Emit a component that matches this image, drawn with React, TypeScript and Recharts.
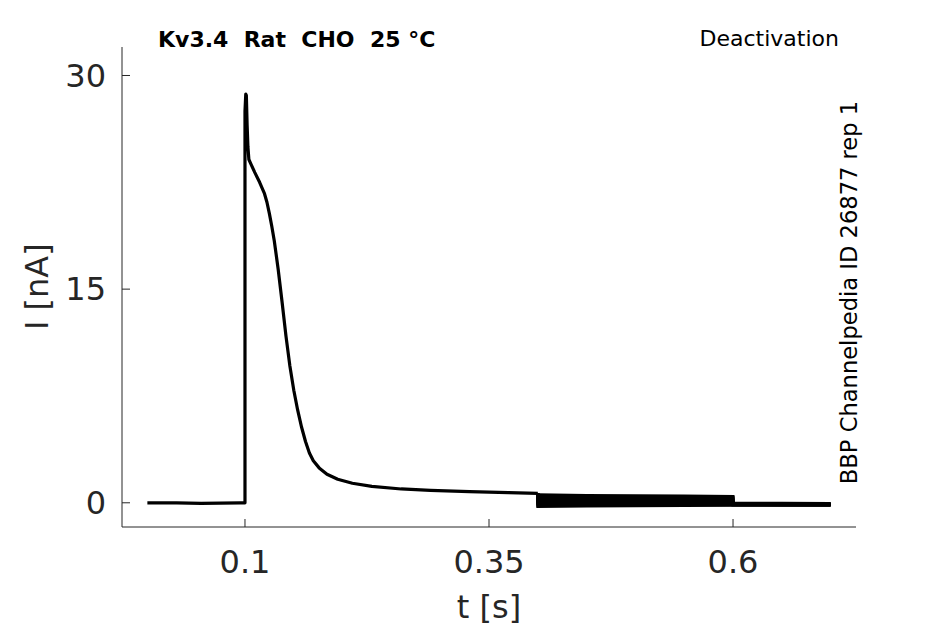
import React from 'react';
import { LineChart, Line, XAxis, YAxis } from 'recharts';

// Main (shared) trace: time [s] and current [nA]
const mainTime = [
  0.0, 0.03, 0.055, 0.075, 0.095, 0.1, 0.1, 0.1008, 0.1014, 0.1022, 0.103, 0.104,
  0.106, 0.11, 0.115, 0.12, 0.1225, 0.125, 0.1275, 0.13, 0.134, 0.138, 0.142, 0.146,
  0.15, 0.154, 0.158, 0.162, 0.166, 0.17, 0.176, 0.184, 0.195, 0.21, 0.23, 0.26,
  0.29, 0.33, 0.37, 0.4,
];
const mainCurrent = [
  0, 0, -0.04, -0.03, 0, 0, 27.5, 28.7, 28.6, 26.5, 25.0, 24.1,
  23.8, 23.2, 22.5, 21.7, 21.1, 20.3, 19.4, 18.4, 16.4, 14.1, 11.7, 9.6,
  7.9, 6.5, 5.3, 4.3, 3.5, 2.95, 2.45, 2.0, 1.65, 1.37, 1.15, 0.97,
  0.87, 0.79, 0.72, 0.66,
];

// Deactivation step (0.4–0.6 s), one row per sweep
const stepTime = [0.4, 0.45, 0.5, 0.55, 0.6];
const sweep1 = [0.56, 0.52, 0.49, 0.47, 0.45];
const sweep2 = [0.45, 0.42, 0.4, 0.38, 0.37];
const sweep3 = [0.34, 0.32, 0.3, 0.29, 0.28];
const sweep4 = [0.24, 0.22, 0.21, 0.2, 0.19];
const sweep5 = [0.13, 0.12, 0.11, 0.11, 0.1];
const sweep6 = [0.03, 0.03, 0.02, 0.02, 0.02];
const sweep7 = [-0.07, -0.06, -0.06, -0.05, -0.05];
const sweep8 = [-0.17, -0.15, -0.14, -0.13, -0.12];
const sweep9 = [-0.26, -0.23, -0.21, -0.19, -0.17];

// Return to holding (0.6–0.7 s)
const tailTime = [0.6, 0.65, 0.7];
const tail1 = [-0.03, -0.04, -0.05];
const tail2 = [-0.05, -0.06, -0.06];
const tail3 = [-0.07, -0.08, -0.08];
const tail4 = [-0.09, -0.1, -0.1];
const tail5 = [-0.11, -0.11, -0.12];
const tail6 = [-0.12, -0.13, -0.13];
const tail7 = [-0.14, -0.14, -0.15];
const tail8 = [-0.15, -0.16, -0.16];
const tail9 = [-0.17, -0.17, -0.18];

const sweeps = [sweep1, sweep2, sweep3, sweep4, sweep5, sweep6, sweep7, sweep8, sweep9];
const tails = [tail1, tail2, tail3, tail4, tail5, tail6, tail7, tail8, tail9];

const xTicks = [0.1, 0.35, 0.6];
const yTicks = [0, 15, 30];
const xDomain = [-0.026, 0.726];
const yDomain = [-1.7, 32.0];

const mainData = mainTime.map((t, i) => ({ t, I: mainCurrent[i] }));
const lastT = mainTime[mainTime.length - 1];
const lastI = mainCurrent[mainCurrent.length - 1];
const sweepData = sweeps.map((s, k) => [
  { t: lastT, I: lastI },
  ...stepTime.map((t, i) => ({ t, I: s[i] })),
  ...tailTime.map((t, i) => ({ t, I: tails[k][i] })),
]);

const FONT = 'DejaVu Sans, Verdana, sans-serif';
const AX = '#262626';
const W = 929;
const H = 616;

export default function App() {
  return (
    <div style={{ position: 'relative', width: W, height: H, fontFamily: FONT }}>
      <LineChart width={W} height={H} margin={{ top: 39, right: 81, bottom: 0, left: 0 }}>
        <XAxis
          type="number"
          dataKey="t"
          domain={xDomain}
          ticks={xTicks}
          allowDataOverflow
          height={97}
          stroke={AX}
          tickSize={-8}
          tickMargin={31}
          tick={{ fill: AX, fontSize: 32, fontFamily: FONT }}
          axisLine={{ stroke: AX, strokeWidth: 1 }}
          tickLine={{ stroke: AX }}
        />
        <YAxis
          type="number"
          dataKey="I"
          domain={yDomain}
          ticks={yTicks}
          allowDataOverflow
          width={114}
          stroke={AX}
          tickSize={-8}
          tickMargin={24}
          tick={{ fill: AX, fontSize: 32, fontFamily: FONT }}
          axisLine={{ stroke: AX, strokeWidth: 1 }}
          tickLine={{ stroke: AX }}
        />
        {sweepData.map((d, k) => (
          <Line
            key={'sweep' + k}
            data={d}
            dataKey="I"
            type="linear"
            stroke="#000"
            strokeWidth={3}
            dot={false}
            activeDot={false}
            isAnimationActive={false}
          />
        ))}
        <Line
          data={mainData}
          dataKey="I"
          type="linear"
          stroke="#000"
          strokeWidth={3.2}
          strokeLinejoin="round"
          dot={false}
          activeDot={false}
          isAnimationActive={false}
        />
      </LineChart>
      <svg
        width={W}
        height={H}
        style={{ position: 'absolute', left: 0, top: 0, pointerEvents: 'none' }}
      >
        <text x={150} y={38.7} fontSize={22} fontWeight="bold" fill="#000" fontFamily={FONT} style={{ whiteSpace: 'pre' }}>
          {'Kv3.4  Rat  CHO  25 °C'}
        </text>
        <text x={831} y={38} fontSize={22} fill="#000" fontFamily={FONT} textAnchor="end">
          Deactivation
        </text>
        <text
          x={849}
          y={284.5}
          fontSize={22.6}
          fill="#000"
          fontFamily={FONT}
          textAnchor="middle"
          transform="rotate(-90 849 284.5)"
        >
          BBP Channelpedia ID 26877 rep 1
        </text>
        <text x={481} y={609.5} fontSize={32} fill={AX} fontFamily={FONT} textAnchor="middle">
          t [s]
        </text>
        <text
          x={40}
          y={278.7}
          fontSize={32}
          fill={AX}
          fontFamily={FONT}
          textAnchor="middle"
          transform="rotate(-90 40 278.7)"
        >
          I [nA]
        </text>
      </svg>
    </div>
  );
}
